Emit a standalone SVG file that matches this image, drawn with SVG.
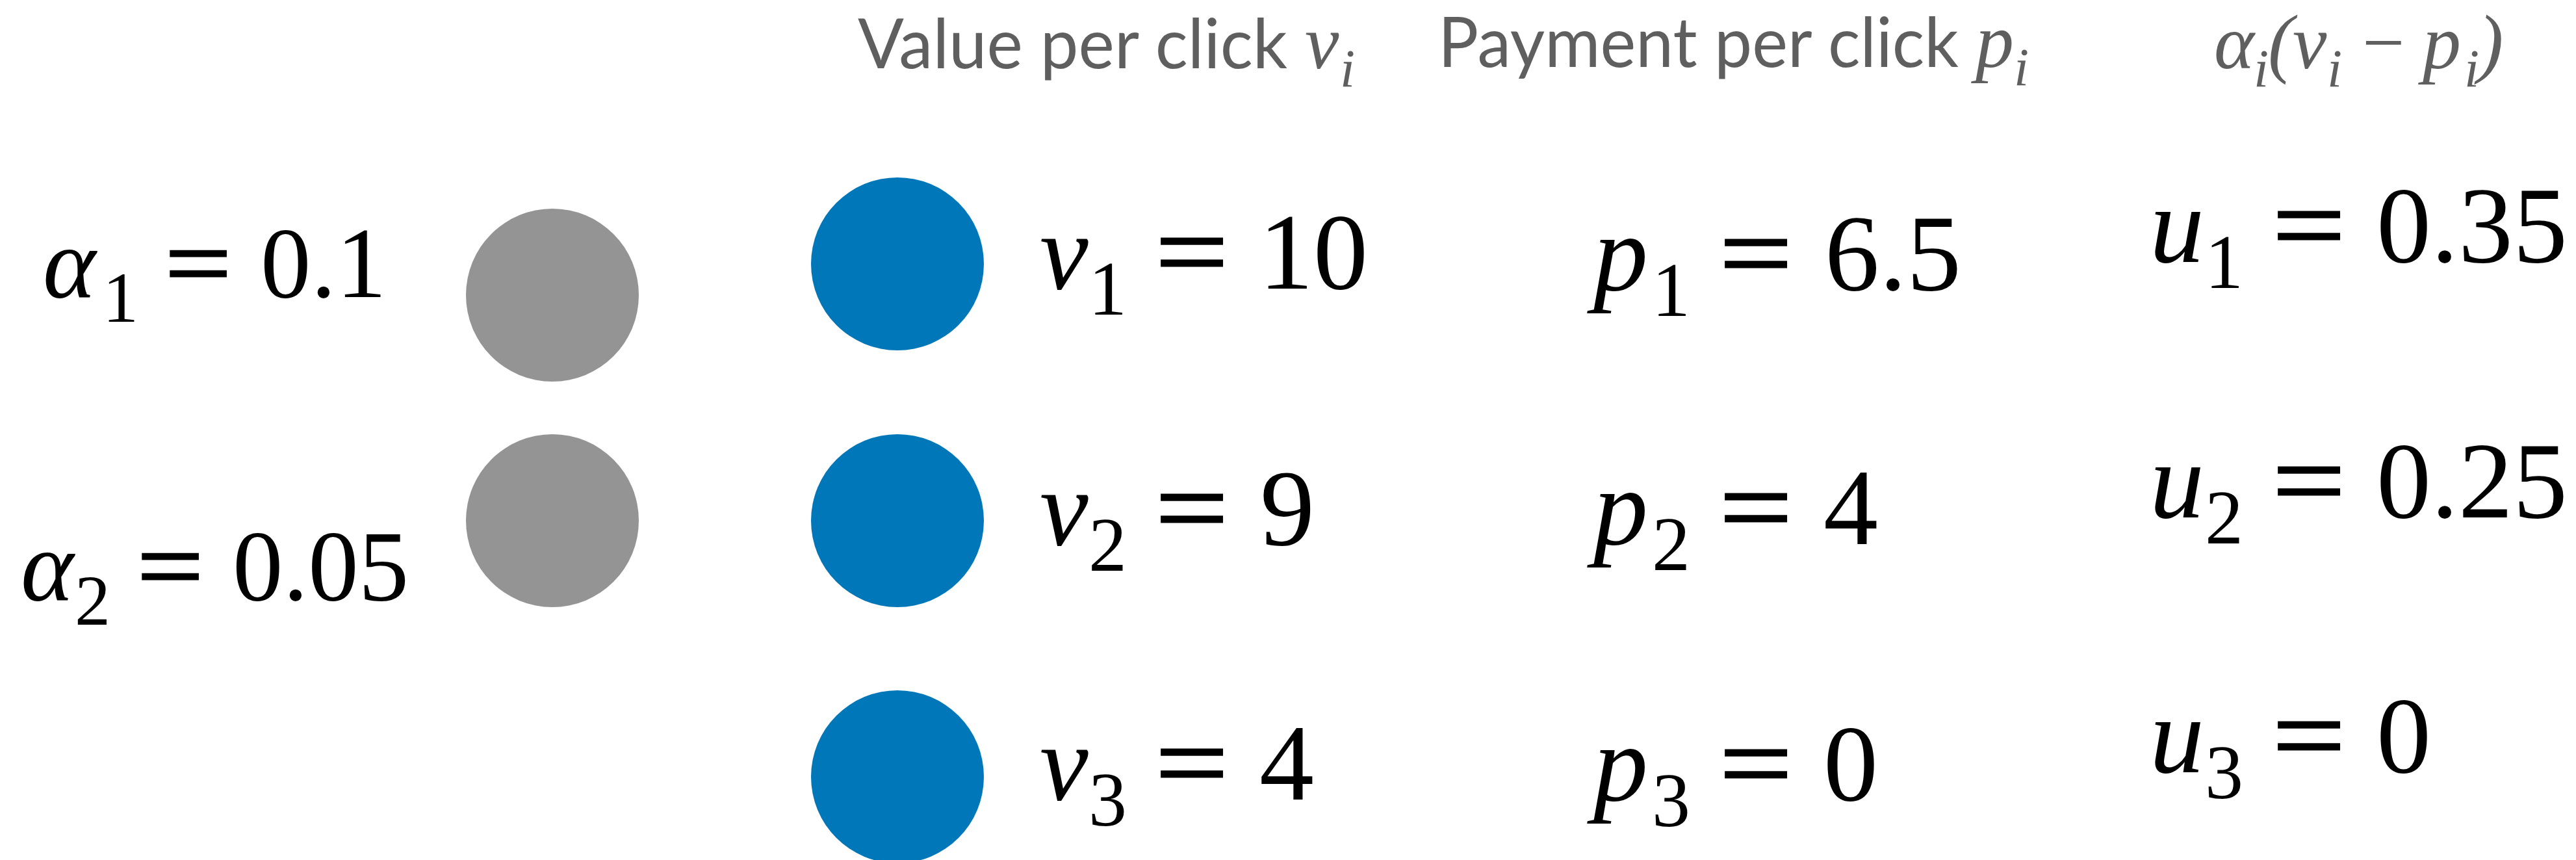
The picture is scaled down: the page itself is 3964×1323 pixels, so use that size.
<svg xmlns="http://www.w3.org/2000/svg" width="3964" height="1323" viewBox="0 0 3964 1323">
<style>
.m{font-family:"Liberation Serif","Times New Roman",serif;fill:#000}
.it{font-style:italic}
.b{font-size:168px}
.bs{font-size:118px}
.s{font-size:155px}
.ss{font-size:110px}
.eq{stroke:#000;stroke-width:3}
.h{font-family:Lato,"Open Sans",sans-serif;font-size:107px;fill:#5f5f5f}
.hm{font-family:"Liberation Serif","Times New Roman",serif;fill:#5f5f5f;font-style:italic}
.hb{font-size:118px}
.hs{font-size:83px}
.gray{fill:#949494}
.blue{fill:#0077b9}
</style>
<rect width="3964" height="1323" fill="#fff"/>
<g id="headers">
  <g id="header-value">
    <text class="h" x="1320" y="105" textLength="661" lengthAdjust="spacingAndGlyphs">Value per click</text>
    <text class="hm hb" x="2008" y="105">v</text>
    <text class="hm hs" x="2062" y="133">i</text>
  </g>
  <g id="header-payment">
    <text class="h" x="2213" y="103" textLength="801" lengthAdjust="spacingAndGlyphs">Payment per click</text>
    <text class="hm hb" x="3040" y="103">p</text>
    <text class="hm hs" x="3099" y="131">i</text>
  </g>
  <g id="header-utility">
    <text class="hm hb" x="3407" y="105">α</text>
    <text class="hm hs" x="3468" y="133">i</text>
    <text class="hm hb" x="3490" y="105" font-style="normal">(</text>
    <text class="hm hb" x="3528" y="105">v</text>
    <text class="hm hs" x="3581" y="133">i</text>
    <text class="hm hb" x="3628" y="105" font-style="normal" textLength="78" lengthAdjust="spacingAndGlyphs">−</text>
    <text class="hm hb" x="3728" y="105">p</text>
    <text class="hm hs" x="3792" y="133">i</text>
    <text class="hm hb" x="3813" y="105" font-style="normal">)</text>
  </g>
</g>
<g id="connectors"/>
<g id="advertiser-1">
  <circle class="gray" cx="850" cy="454" r="133"/>
  <text class="m s it" x="66" y="457">α</text>
  <text class="m ss" x="158" y="495">1</text>
  <text class="m s eq" x="254" y="457" textLength="102" lengthAdjust="spacingAndGlyphs">=</text>
  <text class="m s" x="401" y="457">0.1</text>
</g>
<g id="advertiser-2">
  <circle class="gray" cx="850" cy="801" r="133"/>
  <text class="m s it" x="32" y="923">α</text>
  <text class="m ss" x="115" y="961">2</text>
  <text class="m s eq" x="211" y="923" textLength="102" lengthAdjust="spacingAndGlyphs">=</text>
  <text class="m s" x="358" y="923">0.05</text>
</g>
<g id="slot-1">
  <circle class="blue" cx="1381" cy="406" r="133"/>
  <text class="m b it" x="1600" y="444">v</text>
  <text class="m bs" x="1675" y="484">1</text>
  <text class="m b eq" x="1778" y="444" textLength="112" lengthAdjust="spacingAndGlyphs">=</text>
  <text class="m b" x="1937" y="444">10</text>
  <text class="m b it" x="2452" y="446">p</text>
  <text class="m bs" x="2542" y="486">1</text>
  <text class="m b eq" x="2646" y="446" textLength="112" lengthAdjust="spacingAndGlyphs">=</text>
  <text class="m b" x="2808" y="446">6.5</text>
  <text class="m b it" x="3308" y="403">u</text>
  <text class="m bs" x="3393" y="443">1</text>
  <text class="m b eq" x="3497" y="403" textLength="112" lengthAdjust="spacingAndGlyphs">=</text>
  <text class="m b" x="3657" y="403">0.35</text>
</g>
<g id="slot-2">
  <circle class="blue" cx="1381" cy="801" r="133"/>
  <text class="m b it" x="1600" y="838">v</text>
  <text class="m bs" x="1675" y="878">2</text>
  <text class="m b eq" x="1778" y="838" textLength="112" lengthAdjust="spacingAndGlyphs">=</text>
  <text class="m b" x="1939" y="838">9</text>
  <text class="m b it" x="2452" y="837">p</text>
  <text class="m bs" x="2542" y="877">2</text>
  <text class="m b eq" x="2646" y="837" textLength="112" lengthAdjust="spacingAndGlyphs">=</text>
  <text class="m b" x="2806" y="837">4</text>
  <text class="m b it" x="3308" y="796">u</text>
  <text class="m bs" x="3393" y="836">2</text>
  <text class="m b eq" x="3497" y="796" textLength="112" lengthAdjust="spacingAndGlyphs">=</text>
  <text class="m b" x="3657" y="796">0.25</text>
</g>
<g id="slot-3">
  <circle class="blue" cx="1381" cy="1195" r="133"/>
  <text class="m b it" x="1600" y="1230">v</text>
  <text class="m bs" x="1675" y="1270">3</text>
  <text class="m b eq" x="1778" y="1230" textLength="112" lengthAdjust="spacingAndGlyphs">=</text>
  <text class="m b" x="1938" y="1230">4</text>
  <text class="m b it" x="2452" y="1231">p</text>
  <text class="m bs" x="2542" y="1271">3</text>
  <text class="m b eq" x="2646" y="1231" textLength="112" lengthAdjust="spacingAndGlyphs">=</text>
  <text class="m b" x="2806" y="1231">0</text>
  <text class="m b it" x="3308" y="1188">u</text>
  <text class="m bs" x="3393" y="1228">3</text>
  <text class="m b eq" x="3497" y="1188" textLength="112" lengthAdjust="spacingAndGlyphs">=</text>
  <text class="m b" x="3657" y="1188">0</text>
</g>
</svg>
